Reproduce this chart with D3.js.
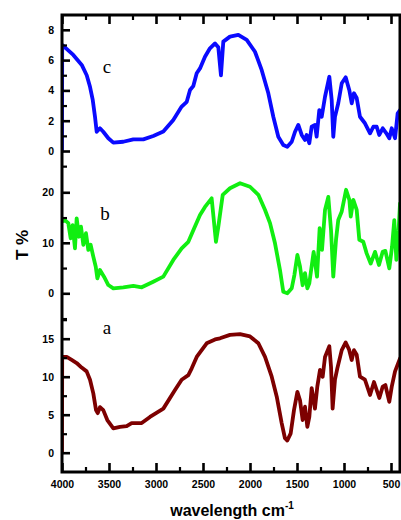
<!DOCTYPE html>
<html>
<head>
<meta charset="utf-8">
<script src="https://cdn.jsdelivr.net/npm/d3@7"></script>
<style>
  body { margin: 0; background: #fff; }
  svg { display: block; }
  .tick text { font-family: "Liberation Sans", Arial, sans-serif; font-weight: bold; font-size: 10.5px; fill: #000; }
</style>
</head>
<body>
<div id="chart"></div>
<script>
// spectra: wavenumber (cm-1) and T %
var waveC = [4000,3998,3880,3790,3737,3702,3673,3649,3631,3596,3561,3507,3454,3348,3241,3135,3029,2922,2816,2727,2673,2638,2603,2567,2532,2479,2426,2372,2337,2309,2284,2213,2124,2035,1947,1876,1805,1752,1699,1646,1603,1556,1521,1486,1450,1415,1397,1369,1344,1309,1291,1263,1237,1202,1156,1131,1114,1096,1061,1024,982,944,918,894,865,830,777,723,688,652,625,588,553,518,492,457,429,404];
var tC =    [0,7.0,6.34,5.68,5.0,4.24,3.37,2.26,1.27,1.5,1.27,0.84,0.55,0.61,0.77,0.77,0.99,1.28,2.05,2.93,3.25,4.03,4.29,5.13,5.45,6.22,6.78,7.1,6.85,5.0,7.22,7.55,7.66,7.33,6.55,5.35,3.81,2.26,0.94,0.4,0.28,0.61,1.27,1.72,1.06,0.73,1.06,0.51,1.6,1.72,0.95,2.7,2.26,3.58,4.9,3.37,0.94,2.26,3.15,4.47,4.86,4.03,3.15,3.81,3.5,2.26,1.83,1.17,1.6,1.6,1.06,1.5,1.2,0.84,1.5,0.84,2.49,2.7];

var waveB = [4000,3969,3933,3908,3887,3862,3844,3819,3798,3773,3745,3720,3695,3667,3641,3624,3596,3553,3507,3454,3348,3241,3152,3029,2922,2816,2727,2656,2603,2532,2479,2408,2362,2337,2290,2213,2106,2000,1911,1840,1787,1734,1681,1646,1603,1556,1528,1496,1468,1440,1415,1390,1369,1323,1287,1259,1234,1202,1167,1138,1114,1085,1061,1024,978,943,928,901,865,837,795,759,716,670,628,589,560,518,489,465,443,419,404];
var tB =    [14.2,14.5,13.9,10.9,13.5,8.9,14.85,11.2,13.2,9.6,11.9,8.6,9.6,7.25,5.27,2.97,4.6,3.3,1.64,0.99,1.19,1.45,1.19,2.3,3.3,6.6,8.9,10.2,12.5,15.5,17.1,18.8,10.2,13.2,19.5,20.8,21.8,21.1,19.5,16.5,13.9,9.9,4.6,0.3,0,1.0,3.6,7.6,5.3,1.6,4.0,1.0,2.0,8.2,3.3,12.9,8.6,16.5,19.1,12.5,3.3,10.6,14.5,16.2,20.5,18.5,15.2,18.5,16.5,10.6,10.2,7.9,5.9,8.2,5.6,8.2,8.4,4.95,9.2,14.5,6.6,12.5,17.8];

var waveA = [4000,3998,3950,3897,3844,3791,3738,3702,3667,3638,3620,3596,3561,3518,3454,3383,3312,3259,3152,3064,2922,2798,2727,2656,2620,2567,2532,2461,2372,2319,2213,2106,2000,1911,1840,1769,1716,1663,1628,1603,1567,1532,1496,1468,1440,1415,1390,1369,1344,1309,1284,1255,1227,1202,1156,1138,1121,1096,1071,1024,982,947,918,894,865,830,777,723,681,624,588,560,518,492,457,404];
var tA =    [0,12.6,12.6,12.2,11.8,11.2,10.7,9.6,7.8,5.6,5.2,6.0,5.6,4.3,3.2,3.4,3.5,3.9,3.9,4.7,5.8,8.25,9.6,10.2,11.1,12.6,13.2,14.4,14.9,15.05,15.5,15.6,15.3,14.4,12.6,10.0,7.4,3.9,1.9,1.6,2.55,5.6,8.0,6.9,4.3,6.05,3.4,4.7,8.5,5.8,8.7,10.9,10.0,12.6,14.0,11.3,5.8,9.6,11.1,13.5,14.5,13.6,12.2,13.5,12.9,10.0,9.6,7.6,9.3,7.2,8.7,8.9,6.7,8.7,10.7,12.4];

var xMajor = [4000,3500,3000,2500,2000,1500,1000,500];
var xMinor = [3750,3250,2750,2250,1750,1250,750];

var ticksC = [0,2,4,6,8], minorC = [-1,1,3,5,7];
var ticksB = [0,10,20],   minorB = [-5,5,15];
var ticksA = [0,5,10,15], minorA = [2.5,7.5,12.5,17.5];

var W = 401, H = 520;
var m = {left: 62, right: 400, top: 15, bottom: 472};

var svg = d3.select("#chart").append("svg")
  .attr("width", W).attr("height", H);

var x = d3.scaleLinear().domain([4000, 400]).range([m.left, m.right + 0.4]);

// three stacked layers sharing one frame
var panels = [
  {wave: waveC, t: tC, color: "#0a0aff", label: "c", lx: 107, ly: 73,
   y: d3.scaleLinear().domain([0, 8]).range([151, 29.8]), major: ticksC, minor: minorC},
  {wave: waveB, t: tB, color: "#11ee11", label: "b", lx: 105, ly: 220,
   y: d3.scaleLinear().domain([0, 20]).range([293.3, 192.3]), major: ticksB, minor: minorB},
  {wave: waveA, t: tA, color: "#7d0000", label: "a", lx: 107, ly: 334,
   y: d3.scaleLinear().domain([0, 15]).range([452.7, 338.7]), major: ticksA, minor: minorA}
];

svg.append("clipPath").attr("id", "plot")
  .append("rect").attr("x", m.left).attr("y", m.top)
  .attr("width", m.right - m.left).attr("height", m.bottom - m.top);

panels.forEach(function(p) {
  var pts = p.wave.map(function(w, i) { return [w, p.t[i]]; });
  var line = d3.line()
    .x(function(d) { return x(d[0]); })
    .y(function(d) { return p.y(d[1]); });
  svg.append("path")
    .datum(pts)
    .attr("clip-path", "url(#plot)")
    .attr("d", line)
    .attr("fill", "none")
    .attr("stroke", p.color)
    .attr("stroke-width", 3.8)
    .attr("stroke-linejoin", "round")
    .attr("stroke-linecap", "round");

  svg.append("text")
    .attr("x", p.lx).attr("y", p.ly)
    .attr("text-anchor", "middle")
    .attr("font-family", "'Liberation Serif', 'Times New Roman', serif")
    .attr("font-size", "19px")
    .text(p.label);

  // y axis for this layer, ticks pointing inward
  var ga = svg.append("g").attr("transform", "translate(" + m.left + ",0)")
    .call(d3.axisLeft(p.y).tickValues(p.major).tickSize(-8).tickPadding(8));
  ga.select(".domain").remove();
  ga.selectAll("line").attr("stroke-width", 2.6);
  var gm = svg.append("g").attr("transform", "translate(" + m.left + ",0)")
    .call(d3.axisLeft(p.y).tickValues(p.minor).tickSize(-5).tickFormat(""));
  gm.select(".domain").remove();
  gm.selectAll("line").attr("stroke-width", 2.2);
});

// bottom axis
var gb = svg.append("g").attr("transform", "translate(0," + m.bottom + ")")
  .call(d3.axisBottom(x).tickValues(xMajor).tickSize(-9).tickPadding(9).tickFormat(d3.format("d")));
gb.select(".domain").remove();
gb.selectAll("line").attr("stroke-width", 2.6);
var gbm = svg.append("g").attr("transform", "translate(0," + m.bottom + ")")
  .call(d3.axisBottom(x).tickValues(xMinor).tickSize(-5).tickFormat(""));
gbm.select(".domain").remove();
gbm.selectAll("line").attr("stroke-width", 2.2);

// top axis, no labels
var gt = svg.append("g").attr("transform", "translate(0," + m.top + ")")
  .call(d3.axisTop(x).tickValues(xMajor).tickSize(-9).tickFormat(""));
gt.select(".domain").remove();
gt.selectAll("line").attr("stroke-width", 2.6);
var gtm = svg.append("g").attr("transform", "translate(0," + m.top + ")")
  .call(d3.axisTop(x).tickValues(xMinor).tickSize(-5).tickFormat(""));
gtm.select(".domain").remove();
gtm.selectAll("line").attr("stroke-width", 2.2);

// frame
svg.append("rect")
  .attr("x", m.left).attr("y", m.top)
  .attr("width", m.right - m.left).attr("height", m.bottom - m.top)
  .attr("fill", "none").attr("stroke", "#000").attr("stroke-width", 3);

// axis titles
svg.append("text")
  .attr("transform", "translate(28,245) rotate(-90)")
  .attr("text-anchor", "middle")
  .attr("font-family", "'Liberation Sans', Arial, sans-serif")
  .attr("font-weight", "bold").attr("font-size", "17px")
  .text("T %");

var xt = svg.append("text")
  .attr("x", 232).attr("y", 516)
  .attr("text-anchor", "middle")
  .attr("font-family", "'Liberation Sans', Arial, sans-serif")
  .attr("font-weight", "bold").attr("font-size", "16px");
xt.append("tspan").text("wavelength cm");
xt.append("tspan").attr("dy", -7).attr("font-size", "10px").text("-1");
</script>
</body>
</html>
